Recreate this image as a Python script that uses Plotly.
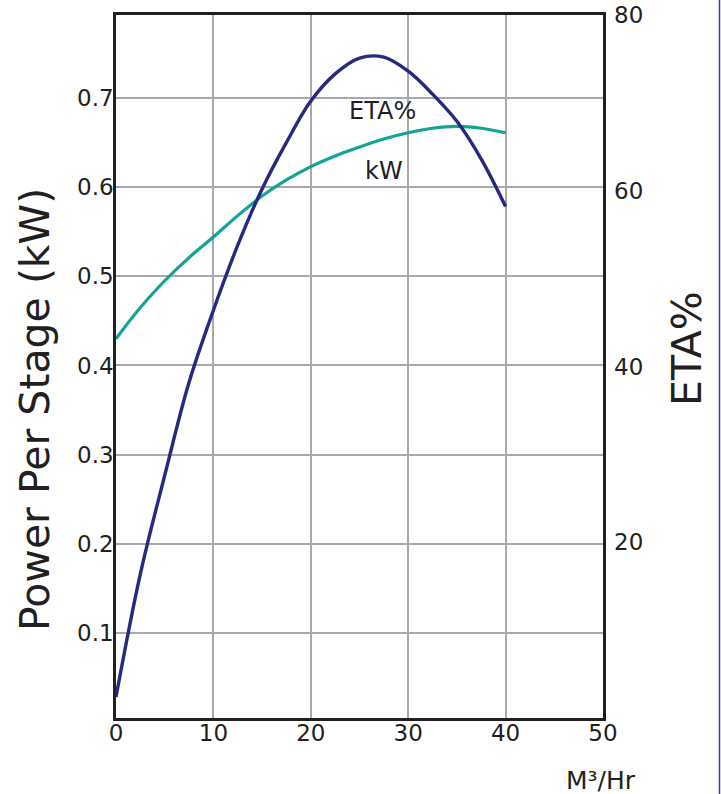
import plotly.graph_objects as go

# Flow (M3/Hr) and efficiency (%) - right axis
eta_flow = [0, 2.5, 5, 7.5, 10, 12.5, 15, 17.5, 20, 22.5, 25, 27.5, 30, 32.5, 35, 37.5, 40]
eta_pct = [2.4, 16.4, 27.6, 38.2, 46.4, 53.8, 60.2, 65.5, 70.2, 73.3, 75.1, 75.2, 73.6, 71.0, 67.9, 63.6, 58.2]

# Flow (M3/Hr) and power per stage (kW) - left axis
kw_flow = [0, 2.5, 5, 7.5, 10, 12.5, 15, 17.5, 20, 22.5, 25, 27.5, 30, 32.5, 35, 37.5, 40]
kw_power = [0.430, 0.465, 0.495, 0.521, 0.544, 0.568, 0.590, 0.608, 0.623, 0.635, 0.645, 0.654,
            0.661, 0.666, 0.668, 0.666, 0.661]

x_ticks = [0, 10, 20, 30, 40, 50]
kw_ticks = [0.1, 0.2, 0.3, 0.4, 0.5, 0.6, 0.7]
kw_tick_labels = ["0.1", "0.2", "0.3", "0.4", "0.5", "0.6", "0.7"]
eta_ticks = [20, 40, 60, 80]

NAVY = "#27287f"
TEAL = "#14a396"
INK = "#231f20"
GRID = "#a7a9ac"
FONT = "DejaVu Sans"

# body margin is removed by post_script, so figure pixels == screen pixels
W, H = 721, 794
L, R, T, B = 116, 603, 15, 718


def px_x(p):
    return (p - L) / (R - L)


def px_y(p):
    return (B - p) / (B - T)


fig = go.Figure()
fig.add_trace(go.Scatter(
    x=kw_flow, y=kw_power, mode="lines", name="kW",
    line=dict(color=TEAL, width=3.2, shape="spline", smoothing=1.0),
    yaxis="y", showlegend=False,
))
fig.add_trace(go.Scatter(
    x=eta_flow, y=eta_pct, mode="lines", name="ETA%",
    line=dict(color=NAVY, width=3.4, shape="spline", smoothing=1.0),
    yaxis="y2", showlegend=False,
))

tick_font = dict(size=23, family=FONT, color=INK)

fig.update_layout(
    width=W, height=H,
    margin=dict(l=L, r=W - R, t=T, b=H - B, autoexpand=False),
    paper_bgcolor="white", plot_bgcolor="white",
    font=dict(family=FONT, color=INK, size=22),
    xaxis=dict(
        range=[0, 50], tickvals=x_ticks, ticktext=[str(v) for v in x_ticks],
        showgrid=True, gridcolor=GRID, gridwidth=1.6,
        showline=True, linecolor=INK, linewidth=2.6, mirror=True,
        zeroline=False, ticks="", tickfont=tick_font, automargin=False,
        ticklabelstandoff=-7, ticklabeloverflow="allow",
    ),
    yaxis=dict(
        range=[0.0047, 0.793], tickvals=kw_ticks, ticktext=kw_tick_labels,
        showgrid=True, gridcolor=GRID, gridwidth=1.6,
        showline=True, linecolor=INK, linewidth=2.6, mirror=True,
        zeroline=False, ticks="", tickfont=tick_font, automargin=False,
        ticklabelstandoff=-5, ticklabeloverflow="allow",
    ),
    yaxis2=dict(
        range=[0, 80], tickvals=eta_ticks, ticktext=[str(v) for v in eta_ticks],
        overlaying="y", side="right", showgrid=False, zeroline=False,
        showline=False, ticks="", tickfont=tick_font, automargin=False,
        ticklabelstandoff=10, ticklabeloverflow="allow",
    ),
    annotations=[
        dict(x=27.4, y=0.685, xref="x", yref="y", text="ETA%", showarrow=False,
             font=dict(size=24, family=FONT, color=INK)),
        dict(x=27.5, y=0.618, xref="x", yref="y", text="kW", showarrow=False,
             font=dict(size=24, family=FONT, color=INK)),
        dict(x=px_x(601), y=px_y(780), xref="paper", yref="paper", text="M³/Hr", showarrow=False,
             xanchor="center", yanchor="middle",
             font=dict(size=25, family=FONT, color=INK)),
        dict(x=px_x(35), y=px_y(410), xref="paper", yref="paper", text="Power Per Stage (kW)",
             showarrow=False, textangle=-90, xanchor="center", yanchor="middle",
             font=dict(size=41, family=FONT, color=INK)),
        dict(x=px_x(687), y=px_y(349), xref="paper", yref="paper", text="ETA%",
             showarrow=False, textangle=-90, xanchor="center", yanchor="middle",
             font=dict(size=41, family=FONT, color=INK)),
    ],
    shapes=[
        dict(type="line", xref="paper", yref="paper",
             x0=px_x(719.5), x1=px_x(719.5), y0=px_y(0), y1=px_y(794),
             line=dict(color="#3b4596", width=1.5)),
    ],
)

fig.write_html(
    "out.html",
    config={"displayModeBar": False},
    post_script="document.body.style.margin='0px';document.body.style.overflow='hidden';",
)
